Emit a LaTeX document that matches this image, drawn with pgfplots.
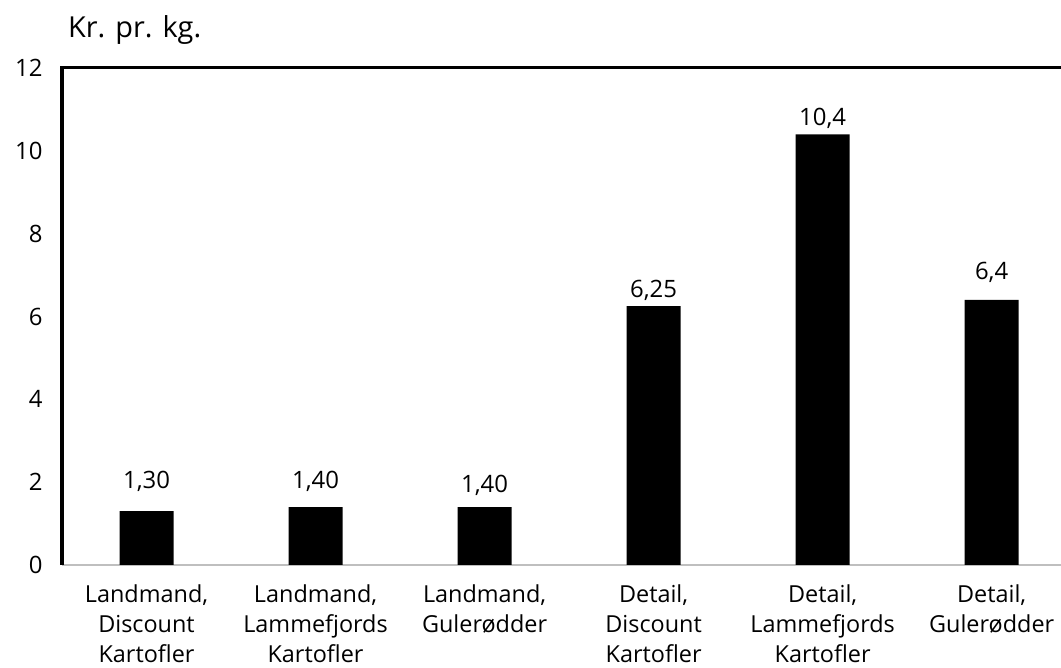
\documentclass[border=0pt]{standalone}
\usepackage{fontspec}
\setmainfont{Open Sans}
\usepackage{pgfplots}
\usepackage{pgfplotstable}
\pgfplotsset{compat=1.18}
\pgfplotstableread{
x y lab off
0 1.30 {1,30} 30
1 1.40 {1,40} 26
2 1.40 {1,40} 22
3 6.25 {6,25} 16
4 10.4 {10,4} 16
5 6.4 {6,4} 28
}\datatable
\begin{document}
\begin{tikzpicture}
\path[use as bounding box] (0,0) rectangle (1061bp,668bp);
\begin{axis}[
  at={(62bp,103bp)}, anchor=south west,
  scale only axis, width=999bp, height=497bp,
  xmin=-0.5, xmax=5.41, ymin=0, ymax=12,
  clip=false,
  ytick={0,2,...,12},
  xtick={0,...,5},
  xticklabels={{Landmand,\\Discount\\Kartofler},{Landmand,\\Lammefjords\\Kartofler},{Landmand,\\Gulerødder},{Detail,\\Discount\\Kartofler},{Detail,\\Lammefjords\\Kartofler},{Detail,\\Gulerødder}},
  major tick length=0pt,
  axis line style={draw=none},
  /pgf/number format/assume math mode=true,
  yticklabel style={font=\fontsize{24}{28}\selectfont, xshift=-16bp},
  xticklabel style={font=\fontsize{23.5}{30}\selectfont, align=center, yshift=-16bp},
  ybar, bar width=54bp,
  nodes near coords,
  point meta=explicit symbolic,
  visualization depends on={\thisrow{off} \as \off},
  nodes near coords style={font=\fontsize{24}{28}\selectfont, anchor=center, yshift=\off bp},
]
\draw[black!25, line width=2bp] (rel axis cs:0,0) -- (rel axis cs:1,0);
\addplot[fill=black, draw=none] table[x=x, y=y, meta=lab] {\datatable};
\draw[black, line width=3bp] (rel axis cs:0,0) -- (rel axis cs:0,1) -- (rel axis cs:1,1);
\node[anchor=base west, font=\fontsize{29}{34}\selectfont, inner sep=0pt] at (rel axis cs:0.006,1) [yshift=30bp] {Kr. pr. kg.};
\end{axis}
\end{tikzpicture}
\end{document}
